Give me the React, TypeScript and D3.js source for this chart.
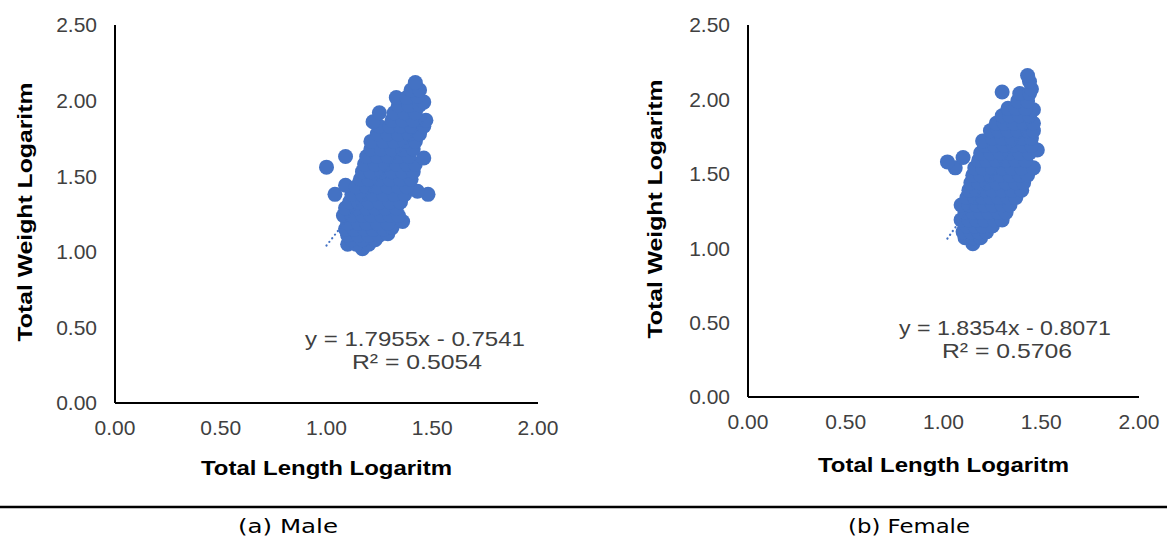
import React from "react";
import * as d3 from "d3";

// log total length / log total weight
const malePoints: [number, number][] = [
  [1.17, 1.02],
  [1.10, 1.05], [1.14, 1.05], [1.20, 1.05],
  [1.12, 1.08], [1.17, 1.08], [1.23, 1.08],
  [1.10, 1.11], [1.15, 1.11], [1.20, 1.11], [1.25, 1.11], [1.29, 1.12],
  [1.09, 1.15], [1.13, 1.15], [1.18, 1.15], [1.22, 1.15], [1.27, 1.15], [1.31, 1.16],
  [1.10, 1.19], [1.15, 1.19], [1.19, 1.19], [1.24, 1.19], [1.29, 1.19], [1.36, 1.20],
  [1.08, 1.24], [1.12, 1.24], [1.17, 1.24], [1.21, 1.24], [1.26, 1.24], [1.30, 1.24], [1.34, 1.24],
  [1.09, 1.29], [1.14, 1.29], [1.19, 1.29], [1.23, 1.29], [1.28, 1.29], [1.33, 1.29],
  [1.11, 1.33], [1.15, 1.33], [1.20, 1.33], [1.25, 1.33], [1.30, 1.33], [1.35, 1.33],
  [1.04, 1.38], [1.12, 1.38], [1.17, 1.38], [1.22, 1.38], [1.27, 1.38], [1.32, 1.38], [1.37, 1.38], [1.48, 1.38],
  [1.43, 1.40],
  [1.09, 1.44], [1.14, 1.43], [1.19, 1.43], [1.24, 1.43], [1.29, 1.43], [1.34, 1.43], [1.38, 1.43],
  [1.16, 1.48], [1.20, 1.48], [1.25, 1.48], [1.30, 1.48], [1.35, 1.48], [1.40, 1.48],
  [1.17, 1.53], [1.21, 1.53], [1.26, 1.53], [1.31, 1.53], [1.36, 1.53], [1.41, 1.53],
  [1.00, 1.56],
  [1.18, 1.58], [1.23, 1.58], [1.28, 1.58], [1.33, 1.58], [1.38, 1.58], [1.42, 1.58],
  [1.09, 1.63], [1.19, 1.63], [1.24, 1.63], [1.29, 1.63], [1.34, 1.63], [1.39, 1.63], [1.46, 1.62],
  [1.21, 1.68], [1.26, 1.68], [1.31, 1.68], [1.36, 1.68], [1.41, 1.68],
  [1.21, 1.73], [1.27, 1.73], [1.32, 1.73], [1.37, 1.73], [1.42, 1.73],
  [1.24, 1.78], [1.29, 1.78], [1.34, 1.78], [1.39, 1.78], [1.44, 1.78],
  [1.25, 1.83], [1.30, 1.83], [1.35, 1.83], [1.40, 1.83], [1.46, 1.83],
  [1.22, 1.86], [1.31, 1.87], [1.36, 1.87], [1.41, 1.87], [1.47, 1.87],
  [1.25, 1.92], [1.32, 1.92], [1.37, 1.92], [1.42, 1.92],
  [1.34, 1.97], [1.39, 1.97], [1.44, 1.97], [1.46, 1.99],
  [1.33, 2.02], [1.38, 2.02], [1.43, 2.03],
  [1.40, 2.07], [1.44, 2.07],
  [1.42, 2.12],
];

const femalePoints: [number, number][] = [
  [1.15, 1.03],
  [1.11, 1.07], [1.15, 1.07], [1.19, 1.07],
  [1.10, 1.11], [1.14, 1.11], [1.18, 1.11], [1.22, 1.11],
  [1.12, 1.15], [1.16, 1.15], [1.20, 1.15], [1.25, 1.15],
  [1.09, 1.19], [1.13, 1.19], [1.17, 1.19], [1.21, 1.19], [1.26, 1.19], [1.30, 1.19],
  [1.11, 1.24], [1.15, 1.24], [1.19, 1.24], [1.23, 1.24], [1.28, 1.24], [1.32, 1.24],
  [1.09, 1.29], [1.13, 1.29], [1.17, 1.29], [1.21, 1.29], [1.25, 1.29], [1.30, 1.29], [1.34, 1.29],
  [1.12, 1.34], [1.16, 1.34], [1.20, 1.34], [1.24, 1.34], [1.28, 1.34], [1.33, 1.34], [1.37, 1.34],
  [1.13, 1.39], [1.17, 1.39], [1.21, 1.39], [1.25, 1.39], [1.30, 1.39], [1.35, 1.39], [1.40, 1.39],
  [1.14, 1.44], [1.18, 1.44], [1.22, 1.44], [1.27, 1.44], [1.32, 1.44], [1.37, 1.44], [1.41, 1.44],
  [1.15, 1.49], [1.19, 1.49], [1.24, 1.49], [1.29, 1.49], [1.34, 1.49], [1.39, 1.49], [1.43, 1.49],
  [1.06, 1.54], [1.16, 1.54], [1.20, 1.54], [1.25, 1.54], [1.30, 1.54], [1.35, 1.54], [1.40, 1.54], [1.46, 1.54],
  [1.02, 1.58], [1.10, 1.61],
  [1.18, 1.59], [1.22, 1.59], [1.27, 1.59], [1.32, 1.59], [1.37, 1.59], [1.42, 1.59],
  [1.19, 1.64], [1.24, 1.64], [1.29, 1.64], [1.34, 1.64], [1.39, 1.64], [1.44, 1.64], [1.48, 1.66],
  [1.21, 1.69], [1.26, 1.69], [1.31, 1.69], [1.36, 1.69], [1.41, 1.69], [1.45, 1.69],
  [1.20, 1.72], [1.25, 1.74], [1.30, 1.74], [1.35, 1.74], [1.40, 1.74], [1.45, 1.74],
  [1.24, 1.79], [1.28, 1.79], [1.33, 1.79], [1.38, 1.79], [1.43, 1.79], [1.46, 1.79],
  [1.27, 1.84], [1.31, 1.84], [1.36, 1.84], [1.41, 1.84], [1.46, 1.84],
  [1.30, 1.89], [1.34, 1.89], [1.39, 1.89], [1.44, 1.89], [1.46, 1.93],
  [1.33, 1.94], [1.37, 1.94], [1.42, 1.94],
  [1.38, 1.99], [1.43, 1.99],
  [1.39, 2.04], [1.44, 2.04], [1.30, 2.05], [1.45, 2.07],
  [1.44, 2.12], [1.43, 2.16],
];

const maleFit = { slope: 1.7955, intercept: -0.7541, r2: "0.5054" };
const femaleFit = { slope: 1.8354, intercept: -0.8071, r2: "0.5706" };

const xTicks = [0, 0.5, 1, 1.5, 2];
const yTicks = [0, 0.5, 1, 1.5, 2, 2.5];

const BLUE = "#4472C4";
const TICK = "#404040";

type PanelProps = {
  points: [number, number][];
  fit: { slope: number; intercept: number; r2: string };
  left: number;
  right: number;
  top: number;
  bottom: number;
  yTitleX: number;
  xTitleY: number;
  eqX: number;
  eqY: number;
  eqW: number;
};

const Panel = (p: PanelProps) => {
  const x = d3.scaleLinear().domain([0, 2]).range([p.left, p.right]);
  const y = d3.scaleLinear().domain([0, 2.5]).range([p.bottom, p.top]);
  const fmt = d3.format(".2f");
  const [x0, x1] = d3.extent(p.points, d => d[0]) as [number, number];
  const line = d3
    .line<number>()
    .x(d => x(d))
    .y(d => y(p.fit.slope * d + p.fit.intercept));
  const sign = p.fit.intercept < 0 ? "-" : "+";

  return (
    <g>
      {p.points.map((d, i) => (
        <circle key={i} cx={x(d[0])} cy={y(d[1])} r={7.5} fill={BLUE} />
      ))}
      <path
        d={line([x0, x1]) || ""}
        fill="none"
        stroke={BLUE}
        strokeWidth={2.2}
        strokeDasharray="0.1 4.5"
        strokeLinecap="round"
      />
      <line x1={p.left} x2={p.left} y1={p.top} y2={p.bottom} stroke="#000" strokeWidth={2} />
      <line x1={p.left} x2={p.right} y1={p.bottom} y2={p.bottom} stroke="#000" strokeWidth={2} />
      {yTicks.map(t => (
        <text key={t} x={p.left - 18} y={y(t)} dy="0.35em" textAnchor="end" fontSize={21} fill={TICK}>
          {fmt(t)}
        </text>
      ))}
      {xTicks.map(t => (
        <text key={t} x={x(t)} y={p.bottom + 25} dy="0.35em" textAnchor="middle" fontSize={21} fill={TICK}>
          {fmt(t)}
        </text>
      ))}
      <text
        transform={`translate(${p.yTitleX},${(p.top + p.bottom) / 2 - 2}) rotate(-90)`}
        textAnchor="middle"
        dy="0.35em"
        fontSize={21}
        fontWeight="bold"
        textLength={259}
        lengthAdjust="spacingAndGlyphs"
      >
        Total Weight Logaritm
      </text>
      <text
        x={(p.left + p.right) / 2}
        y={p.xTitleY}
        textAnchor="middle"
        dy="0.35em"
        fontSize={21}
        fontWeight="bold"
        textLength={251}
        lengthAdjust="spacingAndGlyphs"
      >
        Total Length Logaritm
      </text>
      <text
        x={p.eqX}
        y={p.eqY}
        textAnchor="middle"
        dy="0.35em"
        fontSize={21}
        fill={TICK}
        textLength={p.eqW}
        lengthAdjust="spacingAndGlyphs"
      >
        {`y = ${p.fit.slope}x ${sign} ${Math.abs(p.fit.intercept)}`}
      </text>
      <text
        x={p.eqX + 2}
        y={p.eqY + 23}
        textAnchor="middle"
        dy="0.35em"
        fontSize={21}
        fill={TICK}
        textLength={130}
        lengthAdjust="spacingAndGlyphs"
      >
        {`R² = ${p.fit.r2}`}
      </text>
    </g>
  );
};

const App = () => {
  return (
    <svg
      width={1167}
      height={537}
      style={{ position: "absolute", left: 0, top: 0, background: "#fff" }}
      fontFamily="'Liberation Sans', Arial, sans-serif"
    >
      <Panel
        points={malePoints}
        fit={maleFit}
        left={115}
        right={538}
        top={25}
        bottom={403}
        yTitleX={25}
        xTitleY={468}
        eqX={415}
        eqY={339}
        eqW={220}
      />
      <Panel
        points={femalePoints}
        fit={femaleFit}
        left={748}
        right={1139}
        top={25}
        bottom={397}
        yTitleX={655}
        xTitleY={465}
        eqX={1005}
        eqY={328}
        eqW={212}
      />
      <line x1={0} x2={1167} y1={507} y2={507} stroke="#000" strokeWidth={2.5} />
      <text
        x={288}
        y={526}
        textAnchor="middle"
        dy="0.35em"
        fontSize={20}
        textLength={100}
        lengthAdjust="spacingAndGlyphs"
        fontFamily="'DejaVu Sans', Verdana, sans-serif"
      >
        (a) Male
      </text>
      <text
        x={909}
        y={526}
        textAnchor="middle"
        dy="0.35em"
        fontSize={20}
        textLength={122}
        lengthAdjust="spacingAndGlyphs"
        fontFamily="'DejaVu Sans', Verdana, sans-serif"
      >
        (b) Female
      </text>
    </svg>
  );
};

export default App;
